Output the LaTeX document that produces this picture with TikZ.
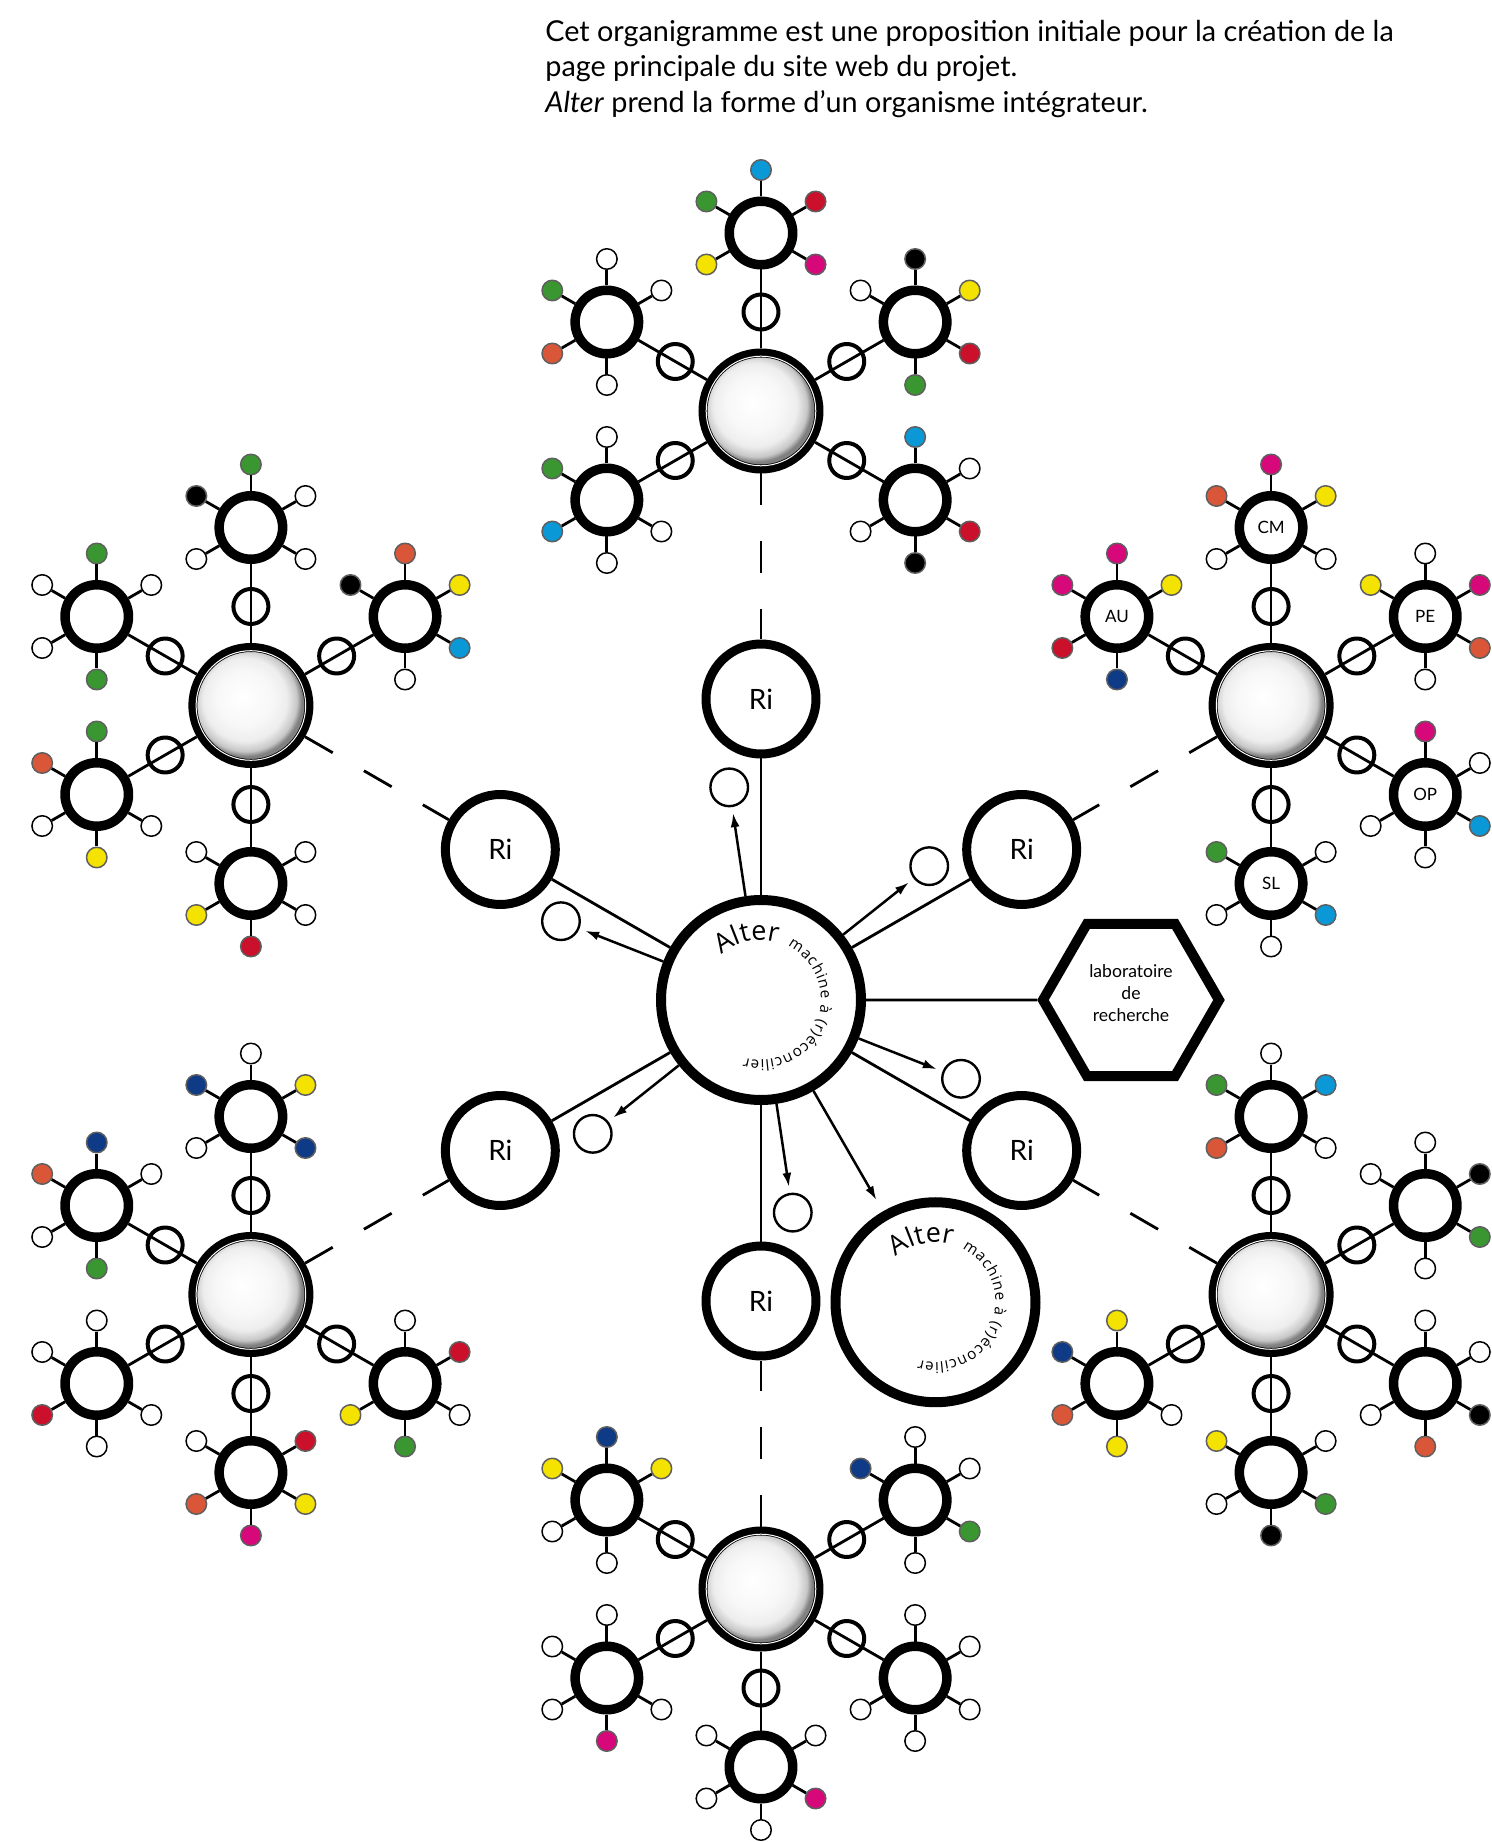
\documentclass[tikz,border=0pt]{standalone}
\usepackage{fontspec}
\setmainfont{Lato}
\newfontfamily\alterfont{Open Sans}
\usetikzlibrary{arrows.meta,shapes.geometric,decorations.text}

\definecolor{leafblue}{RGB}{10,152,214}
\definecolor{leafred}{RGB}{202,16,42}
\definecolor{leafmagenta}{RGB}{214,8,122}
\definecolor{leafyellow}{RGB}{244,226,0}
\definecolor{leafgreen}{RGB}{58,150,48}
\definecolor{leaforange}{RGB}{218,86,56}
\definecolor{leafnavy}{RGB}{14,58,134}
\definecolor{leafedge}{RGB}{95,95,95}

\pgfdeclareradialshading{hubshade}{\pgfpoint{-4bp}{4bp}}{color(0bp)=(white); color(12bp)=(white!97!black); color(18bp)=(white!93!black); color(22bp)=(white!78!black); color(24bp)=(white!50!black); color(50bp)=(white!50!black)}

\newcommand\alterbig{\alterfont\fontsize{13.5}{14}\selectfont}
\newcommand\altersmall{\alterfont\fontsize{7.6}{8}\selectfont}

\newcommand{\altertext}[1]{%
	\path[decorate,decoration={text along path,text align=left,text={|\alterbig|Alter}}]
		([shift={(131:30pt)}]#1.center) arc[start angle=131,end angle=60,radius=30pt];
	\path[decorate,decoration={text effects along path,text align=left,text={machine à (r)éconcilier},
		text effects/.cd,text along path,characters={font=\altersmall},character widths={font=\altersmall,inner xsep=0.2pt}}]
		([shift={(64:30pt)}]#1.center) arc[start angle=64,end angle=-170,radius=30pt];
}

\newcommand{\satellite}[4]{%
	\pgfmathsetmacro{\sa}{90-60*#2}%
	\node[link] (#1k#2) at ([shift={(\sa:99)}]#1.center) {};
	\node[sat] (#1s#2) at ([shift={(\sa:178)}]#1.center) {#4};
	\draw[wire] (#1) -- (#1s#2);
	\foreach \col [count=\j from 0] in {#3} {%
		\if\col-\else
			\pgfmathsetmacro{\la}{90-60*\j}%
			\node[leaf,l\col] (#1s#2f\j) at ([shift={(\la:63)}]#1s#2.center) {};
			\draw[wire] (#1s#2) -- (#1s#2f\j);
		\fi
	}%
}

\begin{document}
\begin{tikzpicture}[x=0.5pt,y=0.5pt,>={Latex[length=7pt,width=4.5pt]},line join=round,
	alter/.style={circle,draw,line width=5pt,minimum size=100pt,inner sep=0pt,fill=white},
	ri/.style={circle,draw,line width=4.5pt,minimum size=55pt,inner sep=0pt,fill=white,font=\fontsize{14}{16}\selectfont},
	hub/.style={circle,draw,line width=4.5pt,minimum size=58pt,inner sep=0pt,shade,shading=hubshade},
	sat/.style={circle,draw,line width=4.75pt,minimum size=31.75pt,inner sep=0pt,fill=white,font=\fontsize{8.5}{9}\selectfont},
	link/.style={circle,draw,line width=2pt,minimum size=17.5pt,inner sep=0pt},
	leaf/.style={circle,line width=0.75pt,minimum size=10.25pt,inner sep=0pt},
	tiny/.style={circle,draw,line width=1.2pt,minimum size=18.8pt,inner sep=0pt},
	labo/.style={regular polygon,regular polygon sides=6,draw,line width=5pt,line join=miter,minimum size=88pt,inner sep=0pt,align=center,text depth=7pt,font=\fontsize{8.8}{10.8}\selectfont},
	wire/.style={line width=1.4pt},
	dashline/.style={line width=1.4pt,dash pattern=on 16pt off 18pt},
	arr/.style={->,line width=1.25pt,shorten >=3pt},
	lw/.style={fill=white,draw=black},
	lB/.style={fill=leafblue,draw=leafedge},
	lR/.style={fill=leafred,draw=leafedge},
	lM/.style={fill=leafmagenta,draw=leafedge},
	lY/.style={fill=leafyellow,draw=leafedge},
	lG/.style={fill=leafgreen,draw=leafedge},
	lO/.style={fill=leaforange,draw=leafedge},
	lN/.style={fill=leafnavy,draw=leafedge},
	lK/.style={fill=black,draw=leafedge}]
	\useasboundingbox (-761,-842) rectangle (731,1000);
	\node[anchor=north west,align=left,inner sep=0pt,font=\fontsize{14.4}{17.6}\selectfont] (intro) at (-216,980)
		{Cet organigramme est une proposition initiale pour la création de la\\page principale du site web du projet.\\\textit{Alter} prend la forme d’un organisme intégrateur.};
	\node[alter] (alter) at (0,0) {};
	\altertext{alter}
	\node[alter] (alter2) at (-60:349) {};
	\altertext{alter2}
	\node[labo] (labo) at (370,0) {laboratoire\\de\\recherche};
	\draw[wire] (alter) -- (labo);
	\draw[arr,shorten >=6.5pt] (alter) -- (alter2);
	\foreach \a [count=\i] in {90,30,-30,-90,-150,150} {
		\node[ri] (r\i) at (\a:301) {Ri};
		\node[tiny] (t\i) at (\a+8.5:215) {};
		\node[hub] (h\i) at (\a:589) {};
		\draw[white,line width=0.5pt] (h\i.center) circle (27.4pt);
		\draw[wire] (alter) -- (r\i);
		\draw[arr] (alter) -- (t\i);
		\draw[dashline] (h\i) -- (r\i);
	}
	\satellite{h1}{0}{B,R,M,-,Y,G}{}
	\satellite{h1}{1}{K,Y,R,G,-,w}{}
	\satellite{h1}{2}{B,w,R,K,w,-}{}
	\satellite{h1}{4}{w,-,w,w,B,G}{}
	\satellite{h1}{5}{w,w,-,w,O,G}{}
	\satellite{h2}{0}{M,Y,w,-,w,O}{CM}
	\satellite{h2}{1}{w,M,O,w,-,Y}{PE}
	\satellite{h2}{2}{M,w,B,w,w,-}{OP}
	\satellite{h2}{3}{-,w,B,w,w,G}{SL}
	\satellite{h2}{5}{M,Y,-,N,R,M}{AU}
	\satellite{h3}{0}{w,B,w,-,O,G}{}
	\satellite{h3}{1}{w,K,G,w,-,w}{}
	\satellite{h3}{2}{w,w,K,O,w,-}{}
	\satellite{h3}{3}{-,w,G,K,w,Y}{}
	\satellite{h3}{4}{Y,-,w,Y,O,N}{}
	\satellite{h4}{1}{w,w,G,w,-,N}{}
	\satellite{h4}{2}{w,w,w,w,w,-}{}
	\satellite{h4}{3}{-,w,M,w,w,w}{}
	\satellite{h4}{4}{w,-,w,M,w,w}{}
	\satellite{h4}{5}{N,Y,-,w,w,Y}{}
	\satellite{h5}{0}{w,Y,N,-,w,N}{}
	\satellite{h5}{2}{w,R,w,G,Y,-}{}
	\satellite{h5}{3}{-,R,Y,M,O,w}{}
	\satellite{h5}{4}{w,-,w,w,R,w}{}
	\satellite{h5}{5}{N,w,-,G,w,O}{}
	\satellite{h6}{0}{G,w,w,-,w,K}{}
	\satellite{h6}{1}{O,Y,B,w,-,K}{}
	\satellite{h6}{3}{-,w,w,R,Y,w}{}
	\satellite{h6}{4}{G,-,w,Y,w,O}{}
	\satellite{h6}{5}{G,w,-,G,w,w}{}
\end{tikzpicture}
\end{document}
